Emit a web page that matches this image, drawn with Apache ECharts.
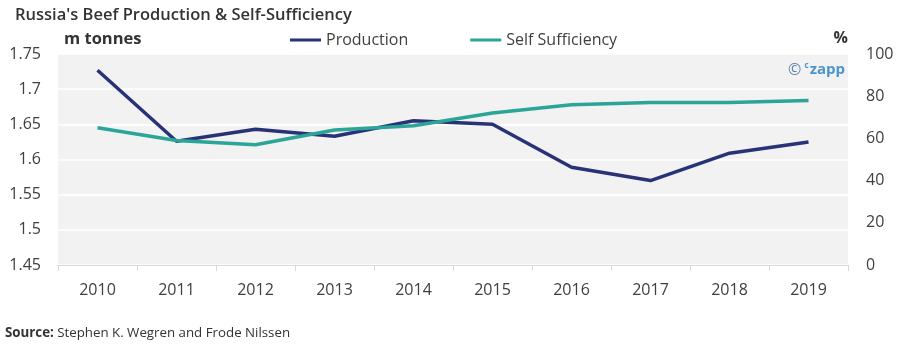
<!DOCTYPE html>
<html>
<head>
<meta charset="utf-8">
<script src="https://cdn.jsdelivr.net/npm/echarts@6/dist/echarts.min.js"></script>
<style>
html,body{margin:0;padding:0;background:#fff;}
#chart{width:900px;height:355px;}
</style>
</head>
<body>
<div id="chart"></div>
<script>
const years = ['2010','2011','2012','2013','2014','2015','2016','2017','2018','2019'];
const production = [1.727, 1.626, 1.643, 1.633, 1.655, 1.650, 1.589, 1.570, 1.609, 1.625];
const selfSufficiency = [65, 59, 57, 64, 66, 72, 76, 77, 77, 78];
const leftTicks = [1.45, 1.75, 0.05];
const rightTicks = [0, 100, 20];

const FONT = '"Open Sans", "Noto Sans", sans-serif';
const chart = echarts.init(document.getElementById('chart'), null, {renderer: 'canvas'});
chart.setOption({
  animation: false,
  textStyle: {fontFamily: FONT},
  title: {
    text: "Russia's Beef Production & Self-Sufficiency",
    left: 10, top: 2,
    textStyle: {fontFamily: FONT, fontSize: 16.5, fontWeight: 600, color: '#333333'}
  },
  legend: {
    left: 285, top: 27,
    itemGap: 62,
    itemWidth: 31, itemHeight: 3,
    icon: 'rect',
    textStyle: {fontFamily: FONT, fontSize: 16, color: '#404040'},
    data: ['Production', 'Self Sufficiency']
  },
  grid: {
    left: 58, right: 52, top: 54, bottom: 90,
    show: true, backgroundColor: '#f2f2f2', borderWidth: 0
  },
  xAxis: {
    type: 'category',
    data: years,
    boundaryGap: true,
    axisLine: {show: true, lineStyle: {color: '#d9d9d9', width: 1}},
    axisTick: {show: true, length: 6, lineStyle: {color: '#d9d9d9'}},
    axisLabel: {fontFamily: FONT, fontSize: 16, color: '#404040', margin: 17}
  },
  yAxis: [
    {
      type: 'value',
      min: leftTicks[0], max: leftTicks[1], interval: leftTicks[2],
      axisLine: {show: false}, axisTick: {show: false},
      splitLine: {show: true, lineStyle: {color: '#ffffff', width: 1.5}},
      axisLabel: {
        fontFamily: FONT, fontSize: 16, color: '#404040', margin: 17,
        formatter: v => String(+v.toFixed(2))
      }
    },
    {
      type: 'value',
      min: rightTicks[0], max: rightTicks[1], interval: rightTicks[2],
      position: 'right',
      axisLine: {show: false}, axisTick: {show: false},
      splitLine: {show: false},
      axisLabel: {fontFamily: FONT, fontSize: 16, color: '#404040', margin: 18}
    }
  ],
  series: [
    {
      name: 'Production', type: 'line', yAxisIndex: 0,
      data: production,
      showSymbol: false, symbol: 'none',
      lineStyle: {color: '#283377', width: 3.5},
      itemStyle: {color: '#283377'}
    },
    {
      name: 'Self Sufficiency', type: 'line', yAxisIndex: 1,
      data: selfSufficiency,
      showSymbol: false, symbol: 'none',
      lineStyle: {color: '#2aa598', width: 3.5},
      itemStyle: {color: '#2aa598'}
    }
  ],
  graphic: [
    {
      type: 'text', left: 64, top: 31,
      style: {text: 'm tonnes', font: 'bold 16.5px ' + FONT, fill: '#333333'}
    },
    {
      type: 'text', right: 52, top: 30,
      style: {text: '%', font: 'bold 16px ' + FONT, fill: '#333333'}
    },
    {
      type: 'text', right: 55, top: 62,
      style: {
        text: '{a|©} {b|c}{c|zapp}',
        rich: {
          a: {fontFamily: FONT, fontSize: 16, fill: '#5b7fae'},
          b: {fontFamily: FONT, fontSize: 8, fontWeight: 'bold', fill: '#4a95cf', verticalAlign: 'top', padding: [0,1,6,0]},
          c: {fontFamily: FONT, fontSize: 15, fontWeight: 'bold', fill: '#4a95cf'}
        }
      }
    },
    {
      type: 'text', left: 5, top: 327,
      style: {
        text: '{b|Source:} {n|Stephen K. Wegren and Frode Nilssen}',
        rich: {
          b: {fontFamily: FONT, fontSize: 13.3, fontWeight: 'bold', fill: '#333333'},
          n: {fontFamily: FONT, fontSize: 13.3, fill: '#333333'}
        }
      }
    }
  ]
});
</script>
</body>
</html>
